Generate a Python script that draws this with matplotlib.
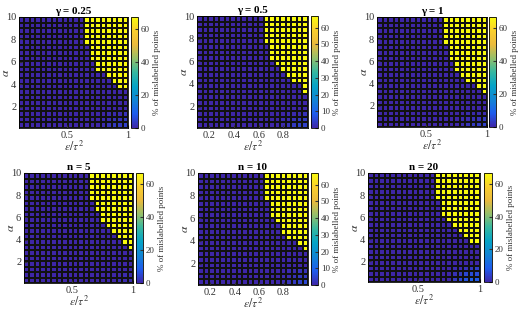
import numpy as np
import matplotlib.pyplot as plt
from matplotlib.colors import LinearSegmentedColormap

plt.rcParams['font.family'] = ['Liberation Serif', 'DejaVu Serif']
plt.rcParams['mathtext.fontset'] = 'stix'

# parula-like colormap (MATLAB default)
parula = LinearSegmentedColormap.from_list('parula', [
    (0.000, (0.2422, 0.1504, 0.6603)),
    (0.125, (0.1200, 0.3600, 0.9300)),
    (0.250, (0.0700, 0.5200, 0.8300)),
    (0.375, (0.0200, 0.6400, 0.7800)),
    (0.500, (0.2100, 0.7200, 0.6300)),
    (0.625, (0.5800, 0.7500, 0.4200)),
    (0.750, (0.9200, 0.7300, 0.2400)),
    (0.875, (0.9800, 0.8100, 0.1800)),
    (1.000, (0.9763, 0.9831, 0.0538)),
])

titles = ['γ = 0.25', 'γ = 0.5', 'γ = 1', 'n = 5', 'n = 10', 'n = 20']

n_cols = 20
n_rows = 20
eps_edges = np.linspace(0.1, 1.0, n_cols + 1)
alpha_edges = np.linspace(0.1, 10.0, n_rows + 1)

peak = 67  # % mislabelled in the yellow region
vmax = 67

# yellow cells counted from the top (alpha = 10) for each eps column
yellow_rows = [
    [0, 0, 0, 0, 0, 0, 0, 0, 0, 0, 0, 0, 5, 8, 10, 10, 11, 12, 13, 13],
    [0, 0, 0, 0, 0, 0, 0, 0, 0, 0, 0, 0, 5, 8, 9, 10, 11, 12, 12, 14],
    [0, 0, 0, 0, 0, 0, 0, 0, 0, 0, 0, 0, 5, 8, 10, 11, 12, 12, 13, 14],
    [0, 0, 0, 0, 0, 0, 0, 0, 0, 0, 0, 0, 5, 7, 9, 10, 11, 12, 13, 14],
    [0, 0, 0, 0, 0, 0, 0, 0, 0, 0, 0, 0, 5, 8, 9, 11, 12, 12, 13, 14],
    [0, 0, 0, 0, 0, 0, 0, 0, 0, 0, 0, 0, 5, 8, 9, 10, 11, 12, 13, 13],
]

# small values in the bottom-right corner (3 lowest rows x 5 last columns)
corner = [
    [[1, 2, 3, 3, 4], [1, 1, 2, 2, 3], [0, 1, 1, 1, 2]],
    [[1, 2, 3, 4, 4], [1, 1, 2, 3, 3], [0, 1, 1, 1, 2]],
    [[1, 2, 3, 3, 4], [1, 1, 2, 2, 3], [0, 1, 1, 1, 1]],
    [[0, 0, 1, 1, 1], [0, 0, 0, 1, 1], [0, 0, 0, 0, 0]],
    [[1, 2, 3, 4, 5], [1, 1, 2, 3, 3], [0, 1, 1, 2, 2]],
    [[3, 5, 7, 9, 8], [2, 3, 5, 6, 6], [1, 1, 2, 3, 4]],
]

xticks_list = [[0.5, 1], [0.2, 0.4, 0.6, 0.8], [0.5, 1],
               [0.5, 1], [0.2, 0.4, 0.6, 0.8], [0.5, 1]]
xticklabels_list = [['0.5', '1'], ['0.2', '0.4', '0.6', '0.8'], ['0.5', '1'],
                    ['0.5', '1'], ['0.2', '0.4', '0.6', '0.8'], ['0.5', '1']]
cticks_list = [[0, 20, 40, 60], list(range(0, 61, 10)), [0, 20, 40, 60],
               [0, 20, 40, 60], list(range(0, 61, 10)), [0, 20, 40, 60]]

W, H = 525, 310
# (left, right, top, bottom) of each heatmap and colorbar, in pixels
ax_px = [(19, 128, 17, 128), (197, 308, 16, 128), (377, 487, 17, 127),
         (24, 133, 173, 283), (198, 308, 173, 285), (368, 480, 173, 282)]
cb_px = [(131, 138), (311, 318), (489, 496), (136, 143), (311, 318), (484, 492)]

fig = plt.figure(figsize=(W / 100, H / 100), dpi=100)
grey = '#333333'

for i in range(6):
    l, r, t, b = ax_px[i]
    ax = fig.add_axes([l / W, 1 - b / H, (r - l) / W, (b - t) / H])
    Z = np.zeros((n_rows, n_cols))
    for j, k in enumerate(yellow_rows[i]):
        if k > 0:
            Z[n_rows - k:, j] = peak
    Z[0:3, n_cols - 5:] = np.array(corner[i])
    mesh = ax.pcolormesh(eps_edges, alpha_edges, Z, cmap=parula, vmin=0, vmax=vmax,
                         edgecolors='#111111', linewidth=0.3)
    ax.set_xlim(0.1, 1.0)
    ax.set_ylim(0.1, 10)
    ax.set_xticks(xticks_list[i])
    ax.set_xticklabels(xticklabels_list[i])
    ax.set_yticks([2, 4, 6, 8, 10])
    ax.tick_params(direction='in', length=2, labelsize=7.5, colors=grey, pad=2)
    ax.set_title(titles[i], fontsize=8, fontweight='bold', pad=2)
    ax.set_xlabel(r'$\epsilon/\tau^2$', fontsize=8.5, color=grey, labelpad=0)
    ax.set_ylabel(r'$\alpha$', fontsize=8.5, color=grey, va='center')
    # put the alpha label ~13 px left of the axes
    ax.yaxis.set_label_coords(-13 / (r - l), 0.5)
    for s in ax.spines.values():
        s.set_linewidth(0.6)

    cl, cr = cb_px[i]
    cax = fig.add_axes([cl / W, 1 - b / H, (cr - cl) / W, (b - t) / H])
    cb = fig.colorbar(mesh, cax=cax)
    cb.set_ticks(cticks_list[i])
    cb.ax.tick_params(direction='in', length=2, labelsize=6.5, colors=grey, pad=2)
    cb.outline.set_linewidth(0.6)
    cb.set_label('% of mislabelled points', fontsize=6.5, color=grey, labelpad=2)

fig.savefig('out.png', dpi=100)
